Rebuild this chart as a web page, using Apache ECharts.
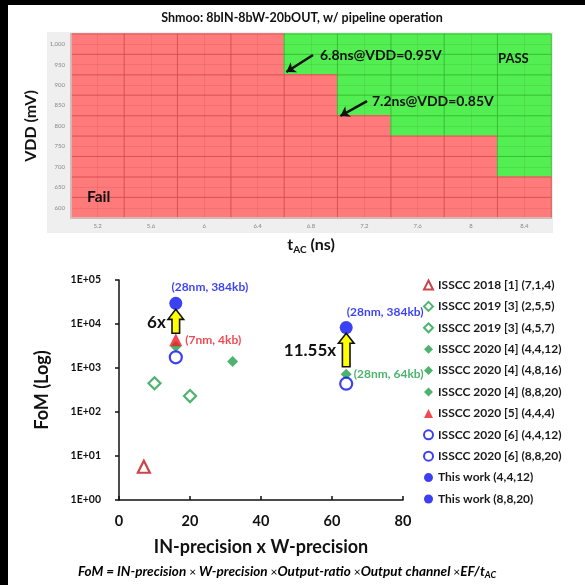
<!DOCTYPE html>
<html>
<head>
<meta charset="utf-8">
<script src="https://cdn.jsdelivr.net/npm/echarts@6/dist/echarts.min.js"></script>
<style>
  html, body { margin: 0; padding: 0; background: #fff; }
  #main { width: 585px; height: 585px; }
</style>
</head>
<body>
<div id="main"></div>
<script>
// --- shmoo data: columns are t_AC (ns), rows are VDD (mV) from top to bottom, 1 = pass
const tacLabels = ['5.2', '5.6', '6', '6.4', '6.8', '7.2', '7.6', '8', '8.4'];
const vddLabels = ['1,000', '950', '900', '850', '800', '750', '700', '650', '600'];
const shmoo = [
  [0, 0, 0, 0, 1, 1, 1, 1, 1],
  [0, 0, 0, 0, 1, 1, 1, 1, 1],
  [0, 0, 0, 0, 0, 1, 1, 1, 1],
  [0, 0, 0, 0, 0, 1, 1, 1, 1],
  [0, 0, 0, 0, 0, 0, 1, 1, 1],
  [0, 0, 0, 0, 0, 0, 0, 0, 1],
  [0, 0, 0, 0, 0, 0, 0, 0, 1],
  [0, 0, 0, 0, 0, 0, 0, 0, 0],
  [0, 0, 0, 0, 0, 0, 0, 0, 0]
];

// --- FoM comparison
const works = [
  'ISSCC 2018 [1] (7,1,4)', 'ISSCC 2019 [3] (2,5,5)', 'ISSCC 2019 [3] (4,5,7)',
  'ISSCC 2020 [4] (4,4,12)', 'ISSCC 2020 [4] (4,8,16)', 'ISSCC 2020 [4] (8,8,20)',
  'ISSCC 2020 [5] (4,4,4)', 'ISSCC 2020 [6] (4,4,12)', 'ISSCC 2020 [6] (8,8,20)',
  'This work (4,4,12)', 'This work (8,8,20)'
];
const precision = [7, 10, 20, 16, 32, 64, 16, 16, 64, 16, 64];
const fom = [5.7, 450, 230, 3100, 1400, 720, 4400, 1750, 440, 29500, 8300];
const notes = ['', '', '', '', '', '(28nm, 64kb)', '(7nm, 4kb)', '', '', '(28nm, 384kb)', '(28nm, 384kb)'];
const fomTickLabels = ['1E+00', '1E+01', '1E+02', '1E+03', '1E+04', '1E+05'];
// improvement arrows
const gainX = [16, 64];
const gainFrom = [6150, 1070];
const gainTo = [21500, 6150];
const gainLabels = ['6x', '11.55x'];

const FONT = 'Lato, "Liberation Sans", sans-serif';
const FAIL = '#ff7a7a', PASS = '#52ee52';
const FAIL_LINE = '#e95a5a', PASS_LINE = '#38d038';
const GREEN = '#22a04b', BLUE = '#0a12f0', RED = '#ee1c25', DARKRED = '#c0141c';

const markStyle = [
  { symbol: 'triangle', size: 12, fill: '#fff', stroke: DARKRED },
  { symbol: 'diamond', size: 12, fill: '#fff', stroke: GREEN },
  { symbol: 'diamond', size: 12, fill: '#fff', stroke: GREEN },
  { symbol: 'diamond', size: 11, fill: GREEN },
  { symbol: 'diamond', size: 11, fill: GREEN },
  { symbol: 'diamond', size: 11, fill: GREEN },
  { symbol: 'triangle', size: 13, fill: RED },
  { symbol: 'circle', size: 12, fill: '#fff', stroke: BLUE },
  { symbol: 'circle', size: 12, fill: '#fff', stroke: BLUE },
  { symbol: 'circle', size: 13, fill: BLUE },
  { symbol: 'circle', size: 13, fill: BLUE }
];
const noteStyle = {
  5: { position: 'right', distance: 2, color: GREEN },
  6: { position: 'right', distance: 3, color: RED },
  9: { position: 'top', distance: 4, offset: [34, 0], color: BLUE },
  10: { position: 'top', distance: 3, offset: [39, 0], color: BLUE }
};

const heatData = [];
shmoo.forEach((row, r) => row.forEach((v, c) => heatData.push({
  value: [c, vddLabels.length - 1 - r, v],
  itemStyle: { borderColor: v ? PASS_LINE : FAIL_LINE }
})));

const chart = echarts.init(document.getElementById('main'));

const scatterSeries = works.map((name, i) => {
  const st = markStyle[i];
  const ns = noteStyle[i];
  return {
    name: name,
    type: 'scatter',
    xAxisIndex: 2,
    yAxisIndex: 2,
    symbol: st.symbol,
    symbolSize: st.size,
    itemStyle: st.stroke
      ? { color: st.fill, borderColor: st.stroke, borderWidth: 2.2 }
      : { color: st.fill },
    label: ns ? {
      show: true,
      position: ns.position,
      distance: ns.distance,
      offset: ns.offset || [0, 0],
      formatter: notes[i],
      color: ns.color,
      fontFamily: FONT,
      fontWeight: 'bold',
      fontSize: 12
    } : { show: false },
    data: [[precision[i], fom[i]]]
  };
});

chart.setOption({
  backgroundColor: '#fff',
  animation: false,
  textStyle: { fontFamily: FONT },
  grid: [
    { left: 71, top: 34, width: 480, height: 184 },
    { left: 119, top: 280, width: 284, height: 220 }
  ],
  visualMap: {
    type: 'piecewise', show: false, seriesIndex: 0, dimension: 2,
    pieces: [{ value: 0, color: FAIL }, { value: 1, color: PASS }]
  },
  legend: {
    data: works,
    orient: 'vertical',
    left: 423,
    top: 278,
    padding: 0,
    itemWidth: 9,
    itemHeight: 9,
    itemGap: 7.4,
    selectedMode: false,
    textStyle: { fontFamily: FONT, fontWeight: 'bold', fontSize: 12, color: '#1a1a1a', lineHeight: 14 }
  },
  xAxis: [
    {
      gridIndex: 0, type: 'category', data: tacLabels, z: 5,
      name: '{t|t}{s|AC}{t| (ns)}', nameLocation: 'middle', nameGap: 17,
      nameTextStyle: {
        rich: {
          t: { fontFamily: FONT, fontWeight: 'bold', fontSize: 16, color: '#111', lineHeight: 20 },
          s: { fontFamily: FONT, fontWeight: 'bold', fontSize: 10, color: '#111', lineHeight: 11, verticalAlign: 'bottom' }
        }
      },
      axisLine: { lineStyle: { color: '#cfcfcf', width: 1.5 } },
      axisTick: { show: false },
      axisLabel: { fontSize: 6, color: '#888', margin: 5 },
      splitLine: { show: false }
    },
    {
      gridIndex: 0, type: 'value', min: 5.0, max: 8.6, interval: 0.2, z: 4,
      axisLine: { show: false }, axisTick: { show: false }, axisLabel: { show: false },
      splitLine: { show: true, lineStyle: { color: 'rgba(60,0,0,0.07)', width: 1 } }
    },
    {
      gridIndex: 1, type: 'value', min: 0, max: 80, interval: 20,
      name: 'IN-precision x W-precision', nameLocation: 'middle', nameGap: 38,
      nameTextStyle: { fontFamily: FONT, fontWeight: 'bold', fontSize: 18, color: '#111' },
      axisLine: { lineStyle: { color: '#111', width: 1.5 } },
      axisTick: { inside: true, length: 4, lineStyle: { color: '#111', width: 1.5 } },
      axisLabel: { fontFamily: FONT, fontWeight: 'bold', fontSize: 14.5, color: '#111', margin: 14 },
      splitLine: { show: false }
    }
  ],
  yAxis: [
    {
      gridIndex: 0, type: 'category', data: vddLabels.slice().reverse(), z: 5,
      name: 'VDD (mV)', nameLocation: 'middle', nameGap: 30, nameRotate: 90,
      nameTextStyle: { fontFamily: FONT, fontWeight: 'bold', fontSize: 16, color: '#111' },
      axisLine: { lineStyle: { color: '#cfcfcf', width: 1.5 } },
      axisTick: { show: false },
      axisLabel: { fontSize: 6, color: '#888', margin: 6 },
      splitLine: { show: false }
    },
    {
      gridIndex: 0, type: 'value', min: 575, max: 1025, interval: 25, z: 4,
      axisLine: { show: false }, axisTick: { show: false }, axisLabel: { show: false },
      splitLine: { show: true, lineStyle: { color: 'rgba(60,0,0,0.07)', width: 1 } }
    },
    {
      gridIndex: 1, type: 'log', logBase: 10, min: 1, max: 100000,
      name: 'FoM (Log)', nameLocation: 'middle', nameGap: 68, nameRotate: 90,
      nameTextStyle: { fontFamily: FONT, fontWeight: 'bold', fontSize: 18, color: '#111' },
      axisLine: { lineStyle: { color: '#111', width: 1.5 } },
      axisTick: { inside: false, length: 4, lineStyle: { color: '#111', width: 1.5 } },
      axisLabel: {
        fontFamily: FONT, fontWeight: 'bold', fontSize: 10.5, color: '#111', margin: 18,
        formatter: v => fomTickLabels[Math.round(Math.log10(v))]
      },
      splitLine: { show: false }
    }
  ],
  graphic: [
    { type: 'rect', z: -10, shape: { x: 47, y: 32, width: 506, height: 201 }, style: { fill: '#efefef' } },
    { type: 'rect', z: 100, shape: { x: 0, y: 0, width: 8, height: 585 }, style: { fill: '#000' } },
    { type: 'rect', z: 100, shape: { x: 0, y: 0, width: 585, height: 5 }, style: { fill: '#000' } },
    {
      type: 'text', z: 100, x: 302, y: 18,
      style: { text: 'Shmoo: 8bIN-8bW-20bOUT, w/ pipeline operation', font: 'bold 12.5px ' + FONT, fill: '#111', align: 'center', verticalAlign: 'middle' }
    },
    {
      type: 'text', z: 100, x: 320, y: 55,
      style: { text: '6.8ns@VDD=0.95V', font: 'bold 14px ' + FONT, fill: '#111', align: 'left', verticalAlign: 'middle' }
    },
    {
      type: 'text', z: 100, x: 372, y: 101,
      style: { text: '7.2ns@VDD=0.85V', font: 'bold 14px ' + FONT, fill: '#111', align: 'left', verticalAlign: 'middle' }
    },
    {
      type: 'text', z: 100, x: 498, y: 59,
      style: { text: 'PASS', font: 'bold 13px ' + FONT, fill: '#111', align: 'left', verticalAlign: 'middle' }
    },
    {
      type: 'text', z: 100, x: 87, y: 197,
      style: { text: 'Fail', font: 'bold 15.5px ' + FONT, fill: '#111', align: 'left', verticalAlign: 'middle' }
    },
    {
      type: 'text', z: 100, x: 287, y: 572,
      style: {
        text: '{b|FoM = IN-precision }{m|×}{b| W-precision }{m|×}{b|Output-ratio }{m|×}{b|Output channel }{m|×}{b|EF/t}{s|AC}',
        align: 'center', verticalAlign: 'middle',
        rich: {
          b: { fontFamily: FONT, fontWeight: 'bold', fontStyle: 'italic', fontSize: 13.5, color: '#111', lineHeight: 16 },
          m: { fontFamily: FONT, fontSize: 12, color: '#111', lineHeight: 16 },
          s: { fontFamily: FONT, fontWeight: 'bold', fontStyle: 'italic', fontSize: 9, color: '#111', lineHeight: 10, verticalAlign: 'bottom' }
        }
      }
    }
  ],
  series: [
    {
      type: 'heatmap', xAxisIndex: 0, yAxisIndex: 0, data: heatData,
      itemStyle: { borderWidth: 1 }
    },
    {
      type: 'lines', coordinateSystem: 'cartesian2d', xAxisIndex: 1, yAxisIndex: 1, z: 8,
      symbol: ['none', 'arrow'], symbolSize: 9,
      lineStyle: { color: '#111', width: 2.5, opacity: 1 },
      data: [
        { coords: [[6.815, 973.6], [6.615, 932]] },
        { coords: [[7.22, 861], [7.02, 824.5]] }
      ]
    },
    ...scatterSeries,
    {
      type: 'custom', xAxisIndex: 2, yAxisIndex: 2, z: 6,
      encode: { x: 0, y: [1, 2] },
      data: gainX.map((x, i) => [x, gainFrom[i], gainTo[i]]),
      renderItem: function (params, api) {
        const p0 = api.coord([api.value(0), api.value(1)]);
        const p1 = api.coord([api.value(0), api.value(2)]);
        const cx = p0[0], yb = p0[1], yt = p1[1];
        const sw = 3.8, hw = 7.8, hl = 10;
        return {
          type: 'group',
          children: [
            {
              type: 'polygon',
              shape: { points: [[cx - sw, yb], [cx - sw, yt + hl], [cx - hw, yt + hl], [cx, yt], [cx + hw, yt + hl], [cx + sw, yt + hl], [cx + sw, yb]] },
              style: { fill: '#ffff00', stroke: '#111', lineWidth: 1.6 }
            },
            {
              type: 'text',
              style: {
                text: gainLabels[params.dataIndex], x: cx - 10, y: (yb + yt) / 2 + 1,
                align: 'right', verticalAlign: 'middle', font: 'bold 17px ' + FONT, fill: '#111'
              }
            }
          ]
        };
      }
    }
  ]
});
</script>
</body>
</html>
